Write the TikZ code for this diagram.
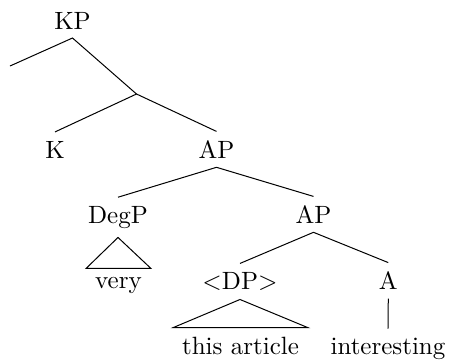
\documentclass[tikz,border=0pt]{standalone}
\begin{document}
\begin{tikzpicture}[x=0.4pt,y=-0.4pt,
  lbl/.style={anchor=base,inner sep=3.4pt},
  edge/.style={line width=0.4pt}]
\useasboundingbox (0,0) rectangle (449,363);
% nodes
\node[lbl] (kp) at (72.5,29) {KP};
\coordinate (e1) at (10,66);
\coordinate (e2) at (136.5,94);
\node[lbl] (k) at (55,158) {K};
\node[lbl] (ap1) at (216.5,158.3) {AP};
\node[lbl] (degp) at (118,223.3) {DegP};
\node[lbl] (ap2) at (313.5,223.3) {AP};
\node[lbl] (dp) at (240,289.5) {$<$DP$>$};
\node[lbl] (a) at (388.3,289.5) {A};
\node[lbl] (very) at (118.5,288.5) {very};
\node[lbl] (art) at (240.5,354) {this article};
\node[lbl] (int) at (388,354) {interesting};
% connectors
\draw[edge] (e1) -- (kp.south) -- (e2);
\draw[edge] (k.north) -- (e2) -- (ap1.north);
\draw[edge] (degp.north) -- (ap1.south) -- (ap2.north);
\draw[edge] (dp.north) -- (ap2.south) -- (a.north);
\draw[edge] (degp.south) -- (very.north west) -- (very.north east) -- cycle;
\draw[edge] (dp.south) -- (art.north west) -- (art.north east) -- cycle;
\draw[edge] (a.south) -- (int.north);
\end{tikzpicture}
\end{document}
